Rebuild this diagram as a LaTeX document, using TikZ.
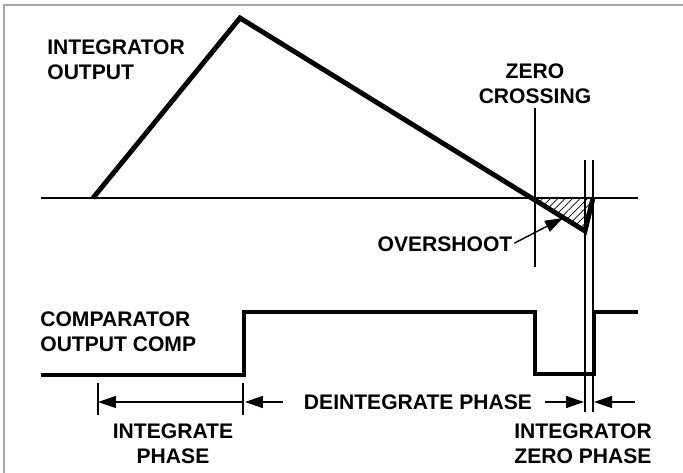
\documentclass[tikz,border=0pt]{standalone}
\usepackage{fontspec}
\setmainfont{Liberation Sans}
\usetikzlibrary{arrows.meta,patterns.meta}

\begin{document}
\begin{tikzpicture}[x=0.02cm,y=-0.02cm,
  sig/.style={line width=2.8pt,line join=miter},
  guide/.style={line width=0.8pt},
  dim/.style={line width=0.8pt,-{Triangle[length=0.36cm,width=0.24cm]}},
  lbl/.style={font=\fontsize{12}{14.2}\selectfont\bfseries,align=center,inner sep=0pt}]
  \useasboundingbox (0,0) rectangle (683,473);
  % frame
  \draw[line width=1.2pt,gray!70] (4,473) -- (4,5) -- (683,5);

  % labels
  \node[lbl,align=left,anchor=west] (intout) at (47,60) {INTEGRATOR\\OUTPUT};
  \node[lbl] (zc) at (535,84) {ZERO\\CROSSING};
  \node[lbl] (os) at (445,244) {OVERSHOOT};
  \node[lbl,align=left,anchor=west] (comp) at (40,332) {COMPARATOR\\OUTPUT COMP};
  \node[lbl] (intph) at (173,444) {INTEGRATE\\PHASE};
  \node[lbl] (deint) at (418,402) {DEINTEGRATE PHASE};
  \node[lbl] (zph) at (583,444) {INTEGRATOR\\ZERO PHASE};

  % overshoot area
  \fill[pattern={Lines[angle=45,distance=3pt,line width=0.4pt]}]
    (535,198) -- (592,198) -- (585,231) -- cycle;

  % guide lines
  \coordinate (zcend) at (535,267);
  \draw[guide] (41,198) -- (638,198);
  \draw[guide,shorten <=2.3pt] (zc.south) -- (zcend);
  \draw[guide] (585,160) -- (585,412);
  \draw[guide] (593,160) -- (593,412);
  \draw[guide] (98,383) -- (98,415);
  \draw[guide] (243,383) -- (243,415);

  % integrator output
  \draw[sig] (93,198) -- (240,18) -- (585,231) -- (593,198);

  % comparator output
  \draw[sig] (41,375) -- (244,375) -- (244,312) -- (535,312) -- (535,374)
    -- (594,374) -- (594,312) -- (638,312);

  % phases
  \coordinate (ia) at (98,402);
  \coordinate (ib) at (243,402);
  \coordinate (da) at (283,402);
  \coordinate (dat) at (245,402);
  \coordinate (db) at (545,402);
  \coordinate (dbt) at (584,402);
  \coordinate (za) at (635,402);
  \coordinate (zat) at (594,402);
  \coordinate (ovtip) at (563,218);
  \draw[dim,{Triangle[length=0.36cm,width=0.24cm]}-] (ia) -- (ib);
  \draw[dim] (da) -- (dat);
  \draw[dim] (db) -- (dbt);
  \draw[dim] (za) -- (zat);
  \draw[dim,shorten <=1pt] (os.east) -- (ovtip);
\end{tikzpicture}
\end{document}
